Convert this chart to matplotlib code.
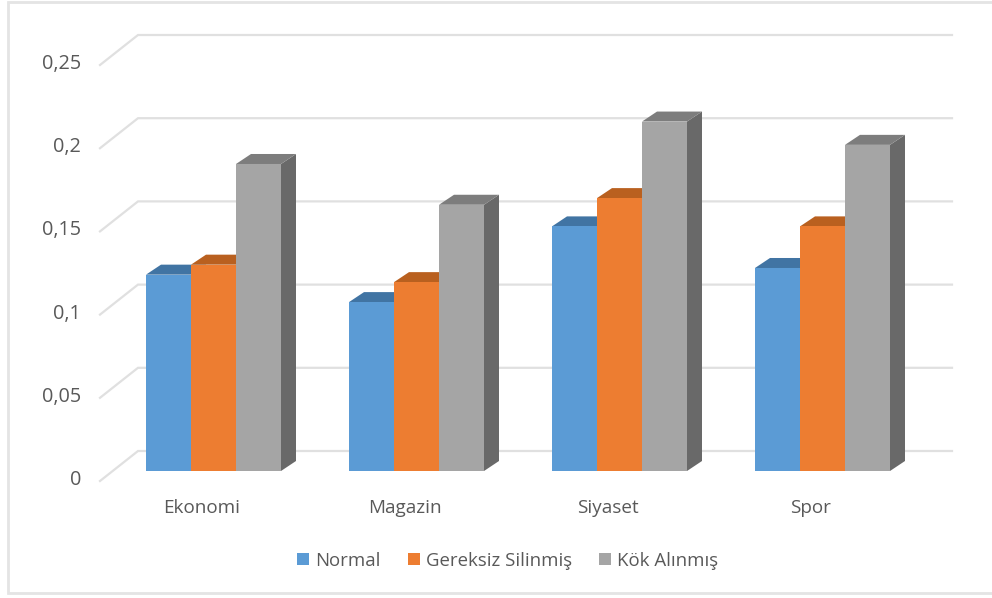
import matplotlib.pyplot as plt
from matplotlib.patches import Rectangle

plt.rcParams['font.family'] = ['Open Sans', 'DejaVu Sans']

categories = ['Ekonomi', 'Magazin', 'Siyaset', 'Spor']
series_names = ['Normal', 'Gereksiz Silinmiş', 'Kök Alınmış']
normal = [0.118, 0.1015, 0.147, 0.122]
gereksiz = [0.124, 0.1135, 0.164, 0.147]
kok = [0.1845, 0.16, 0.21, 0.196]
y_ticks = [0, 0.05, 0.1, 0.15, 0.2, 0.25]
y_labels = ['0', '0,05', '0,1', '0,15', '0,2', '0,25']

front_colors = ['#5B9BD5', '#ED7D31', '#A5A5A5']
top_colors = ['#4174A3', '#B9601F', '#7D7D7D']
side_colors = ['#37628A', '#9C511B', '#696969']
text_color = '#595959'

W, H = 992, 598
PX_X = 203.0   # pixels for one category
PX_Y = 1664.0  # pixels for one unit of value
X0, Y0 = 213.5, 471.0

fig = plt.figure(figsize=(W / 100, H / 100), dpi=100)
ax = fig.add_axes([0, 0, 1, 1])
ax.set_xlim(-X0 / PX_X, (W - X0) / PX_X)
ax.set_ylim((Y0 - H) / PX_Y, Y0 / PX_Y)
ax.axis('off')

# chart frame, open on the right side
fig.add_artist(Rectangle((8 / W, 1 - 593 / H), 1.1, 591 / H, transform=fig.transFigure,
                         facecolor='white', edgecolor='#E4E4E4', linewidth=2, zorder=-5))

# depth of the bars
bar_w = 45 / PX_X
dx = 15 / PX_X
dy = 10 / PX_Y

# back wall gridlines with their diagonal on the left
x_front = (100 - X0) / PX_X
x_back = (138 - X0) / PX_X
x_end = (952 - X0) / PX_X
front_dy = (Y0 - 481) / PX_Y
back_dy = (Y0 - 451) / PX_Y
for v in y_ticks:
    ax.plot([x_front, x_back, x_end], [v + front_dy, v + back_dy, v + back_dy],
            color='#E0E0E0', linewidth=1.6, solid_joinstyle='miter', zorder=1)

# bars: front face from ax.bar, top and side faces offset by the depth
for s, values in enumerate([normal, gereksiz, kok]):
    positions = [i + (s - 1) * bar_w for i in range(len(categories))]
    for x, v in zip(positions, values):
        l, r = x - bar_w / 2, x + bar_w / 2
        ax.fill([r, r + dx, r + dx, r], [0, dy, v + dy, v],
                color=side_colors[s], linewidth=0, zorder=2 + s)
        ax.fill([l, r, r + dx, l + dx], [v, v, v + dy, v + dy],
                color=top_colors[s], linewidth=0, zorder=2 + s)
    ax.bar(positions, values, width=bar_w, color=front_colors[s], linewidth=0,
           label=series_names[s], zorder=2.5 + s)

for v, lab in zip(y_ticks, y_labels):
    ax.annotate(lab, (0, v), xycoords=('axes fraction', 'data'), xytext=(81, -9),
                textcoords='offset pixels', ha='right', va='center',
                fontsize=14.3, color=text_color)

for i, cat in enumerate(categories):
    ax.annotate(cat, (i, 0), xytext=(-12, -37), textcoords='offset pixels',
                ha='center', va='center', fontsize=13.6, color=text_color)

leg = ax.legend(loc='center', bbox_to_anchor=(507.5 / W, 1 - 560.5 / H), ncol=3, frameon=False,
                fontsize=13.4, labelcolor=text_color, handlelength=0.65, handleheight=0.65,
                handletextpad=0.32, columnspacing=1.45, borderpad=0)

fig.savefig('out.png', dpi=100)
